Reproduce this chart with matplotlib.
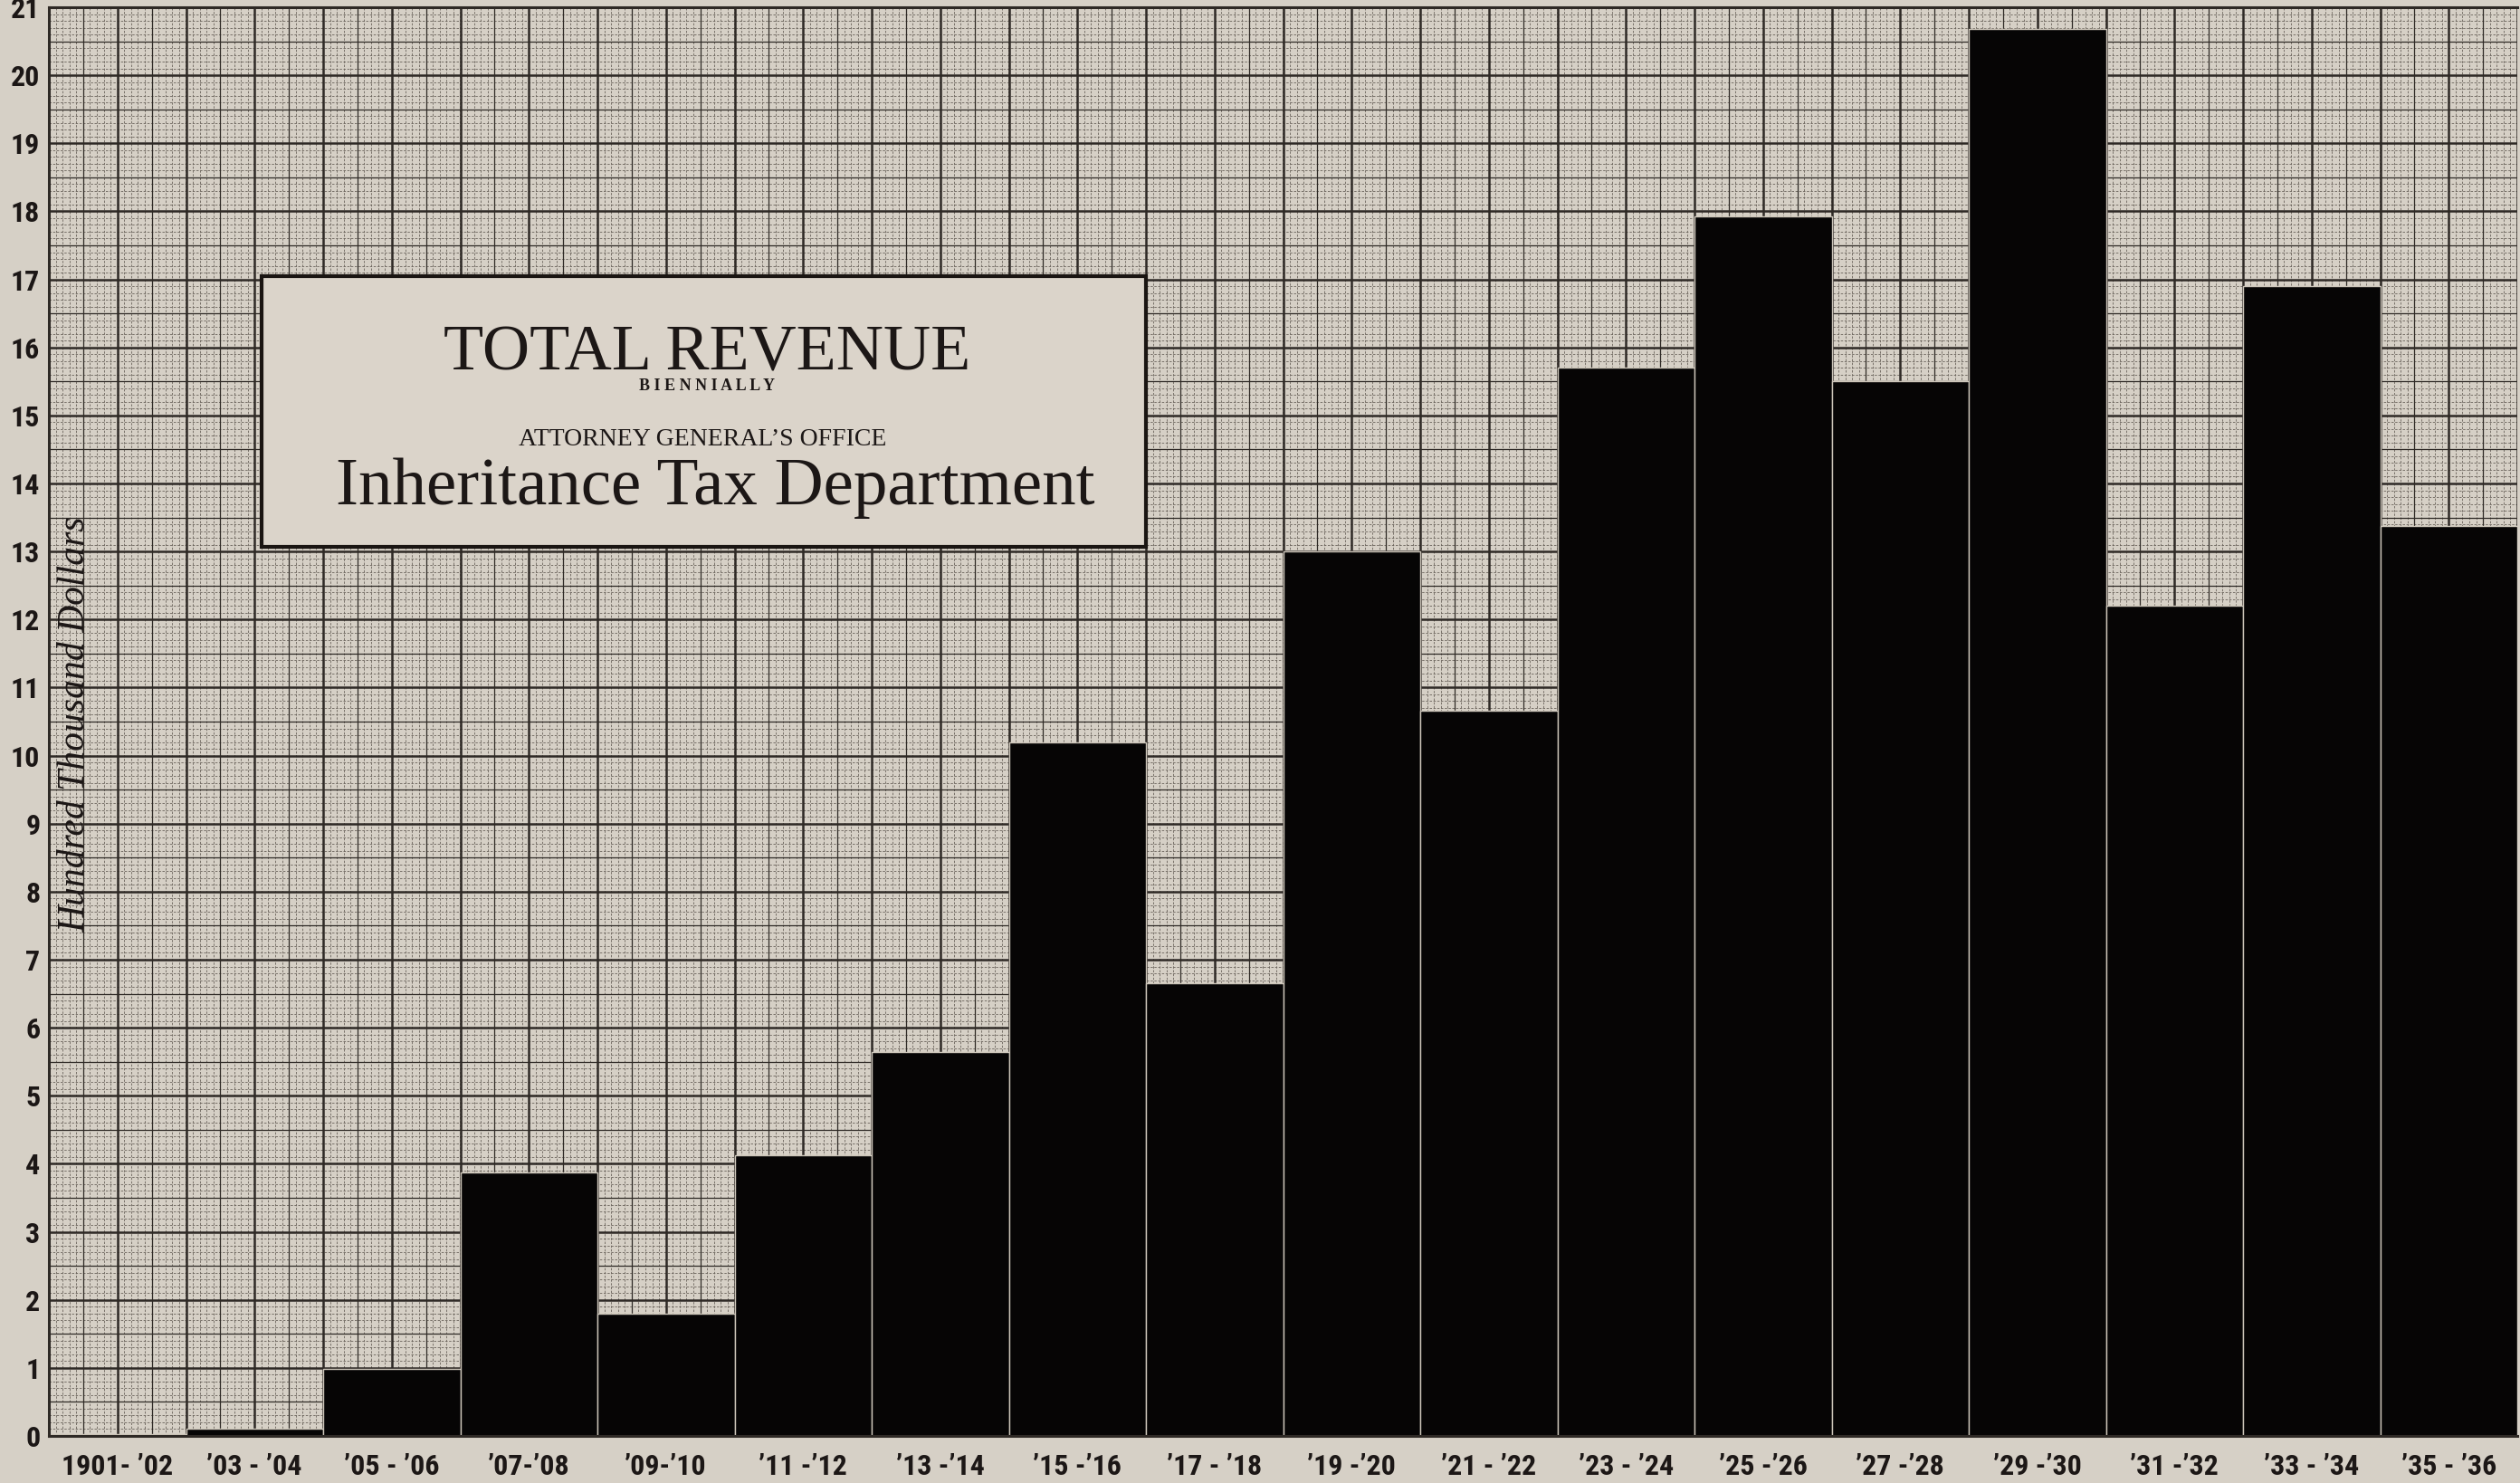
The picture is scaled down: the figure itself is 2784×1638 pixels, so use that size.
import matplotlib.pyplot as plt
import numpy as np
from matplotlib.patches import Rectangle

periods = ["1901- \u201902", "\u201903 - \u201904", "\u201905 - \u201906", "\u201907-\u201908",
           "\u201909-\u201910", "\u201911 -\u201912", "\u201913 -\u201914", "\u201915 -\u201916",
           "\u201917 - \u201918", "\u201919 -\u201920", "\u201921 - \u201922", "\u201923 - \u201924",
           "\u201925 -\u201926", "\u201927 -\u201928", "\u201929 -\u201930", "\u201931 -\u201932",
           "\u201933 - \u201934", "\u201935 - \u201936"]
# hundred thousand dollars
revenue = [0.03, 0.1, 0.99, 3.87, 1.8, 4.13, 5.64, 10.2, 6.66, 13.0,
           10.66, 15.7, 17.92, 15.5, 20.68, 12.2, 16.9, 13.38]
y_ticks = list(range(0, 22))

W, H = 2784, 1638
paper = "#d6d0c6"
ink = "#1c1716"
grid_ink = "#2e2925"


def fx(px):
    return px / W


def fy(py):
    return 1 - py / H


fig = plt.figure(figsize=(W / 100, H / 100), dpi=100, facecolor=paper)
ax = fig.add_axes([fx(54), fy(1586), (2781 - 54) / W, (1586 - 8) / H])
ax.set_facecolor(paper)

n = len(periods)
x = np.arange(n)
ax.set_xlim(-0.5, n - 0.5)
ax.set_ylim(0, 21)

# graph paper: fine, medium and heavy rulings (one heavy square = half a bar)
fine_y = np.arange(0, 21.001, 0.1)
fine_x = np.arange(-0.5, n - 0.5 + 0.001, 0.05)
ax.hlines(fine_y, -0.5, n - 0.5, colors="#6a635b", lw=0.6, linestyles=(0, (3, 2)), zorder=0)
ax.vlines(fine_x, 0, 21, colors="#6a635b", lw=0.6, linestyles=(0, (3, 2)), zorder=0)
ax.hlines(np.arange(0.5, 21, 1.0), -0.5, n - 0.5, colors=grid_ink, lw=0.9, zorder=0.5)
ax.vlines(np.arange(-0.25, n - 0.5, 0.5), 0, 21, colors=grid_ink, lw=0.9, zorder=0.5)
ax.hlines(np.arange(0, 21.001, 1.0), -0.5, n - 0.5, colors=grid_ink, lw=1.8, zorder=0.6)
ax.vlines(np.arange(-0.5, n - 0.5 + 0.001, 0.5), 0, 21, colors=grid_ink, lw=1.8, zorder=0.6)

ax.bar(x, revenue, width=1.0, color="#060505", edgecolor="#cdc6ba", linewidth=1.0, zorder=2)

for side in ("left", "top", "bottom"):
    ax.spines[side].set_color(grid_ink)
    ax.spines[side].set_linewidth(2.2)
ax.spines["right"].set_visible(False)

tick_font = dict(family=["Roboto Condensed", "DejaVu Sans"], weight="bold", size=23, color=ink)
ax.set_xticks(x)
ax.set_xticklabels(periods, **tick_font)
ax.set_yticks(y_ticks)
ax.set_yticklabels([str(v) for v in y_ticks], **tick_font)
ax.tick_params(axis="x", length=0, pad=14)
ax.tick_params(axis="y", length=0, pad=7)

# title panel
ax.add_patch(Rectangle((fx(289), fy(604)), (1266 - 289) / W, (604 - 305) / H,
                       transform=fig.transFigure, facecolor="#dbd4ca", edgecolor="#1a1512",
                       linewidth=3.0, zorder=5, clip_on=False))
serif = "Liberation Serif"
fig.text(fx(781), fy(408), "TOTAL REVENUE", family=serif, size=52, color=ink,
         ha="center", va="baseline", zorder=6)
fig.text(fx(781), fy(431), "B I E N N I A L L Y", family=serif, weight="bold", size=13,
         color=ink, ha="center", va="baseline", zorder=6)
fig.text(fx(776), fy(492), "ATTORNEY GENERAL\u2019S OFFICE", family=serif, size=20,
         color=ink, ha="center", va="baseline", zorder=6)
fig.text(fx(790), fy(557), "Inheritance Tax Department", family=serif, size=54,
         color=ink, ha="center", va="baseline", zorder=6)

fig.text(fx(83), fy(800), "Hundred Thousand Dollars", family=serif, style="italic",
         size=30, color=ink, rotation=90, ha="center", va="center", zorder=6)

fig.savefig("out.png", dpi=100, facecolor=paper)
